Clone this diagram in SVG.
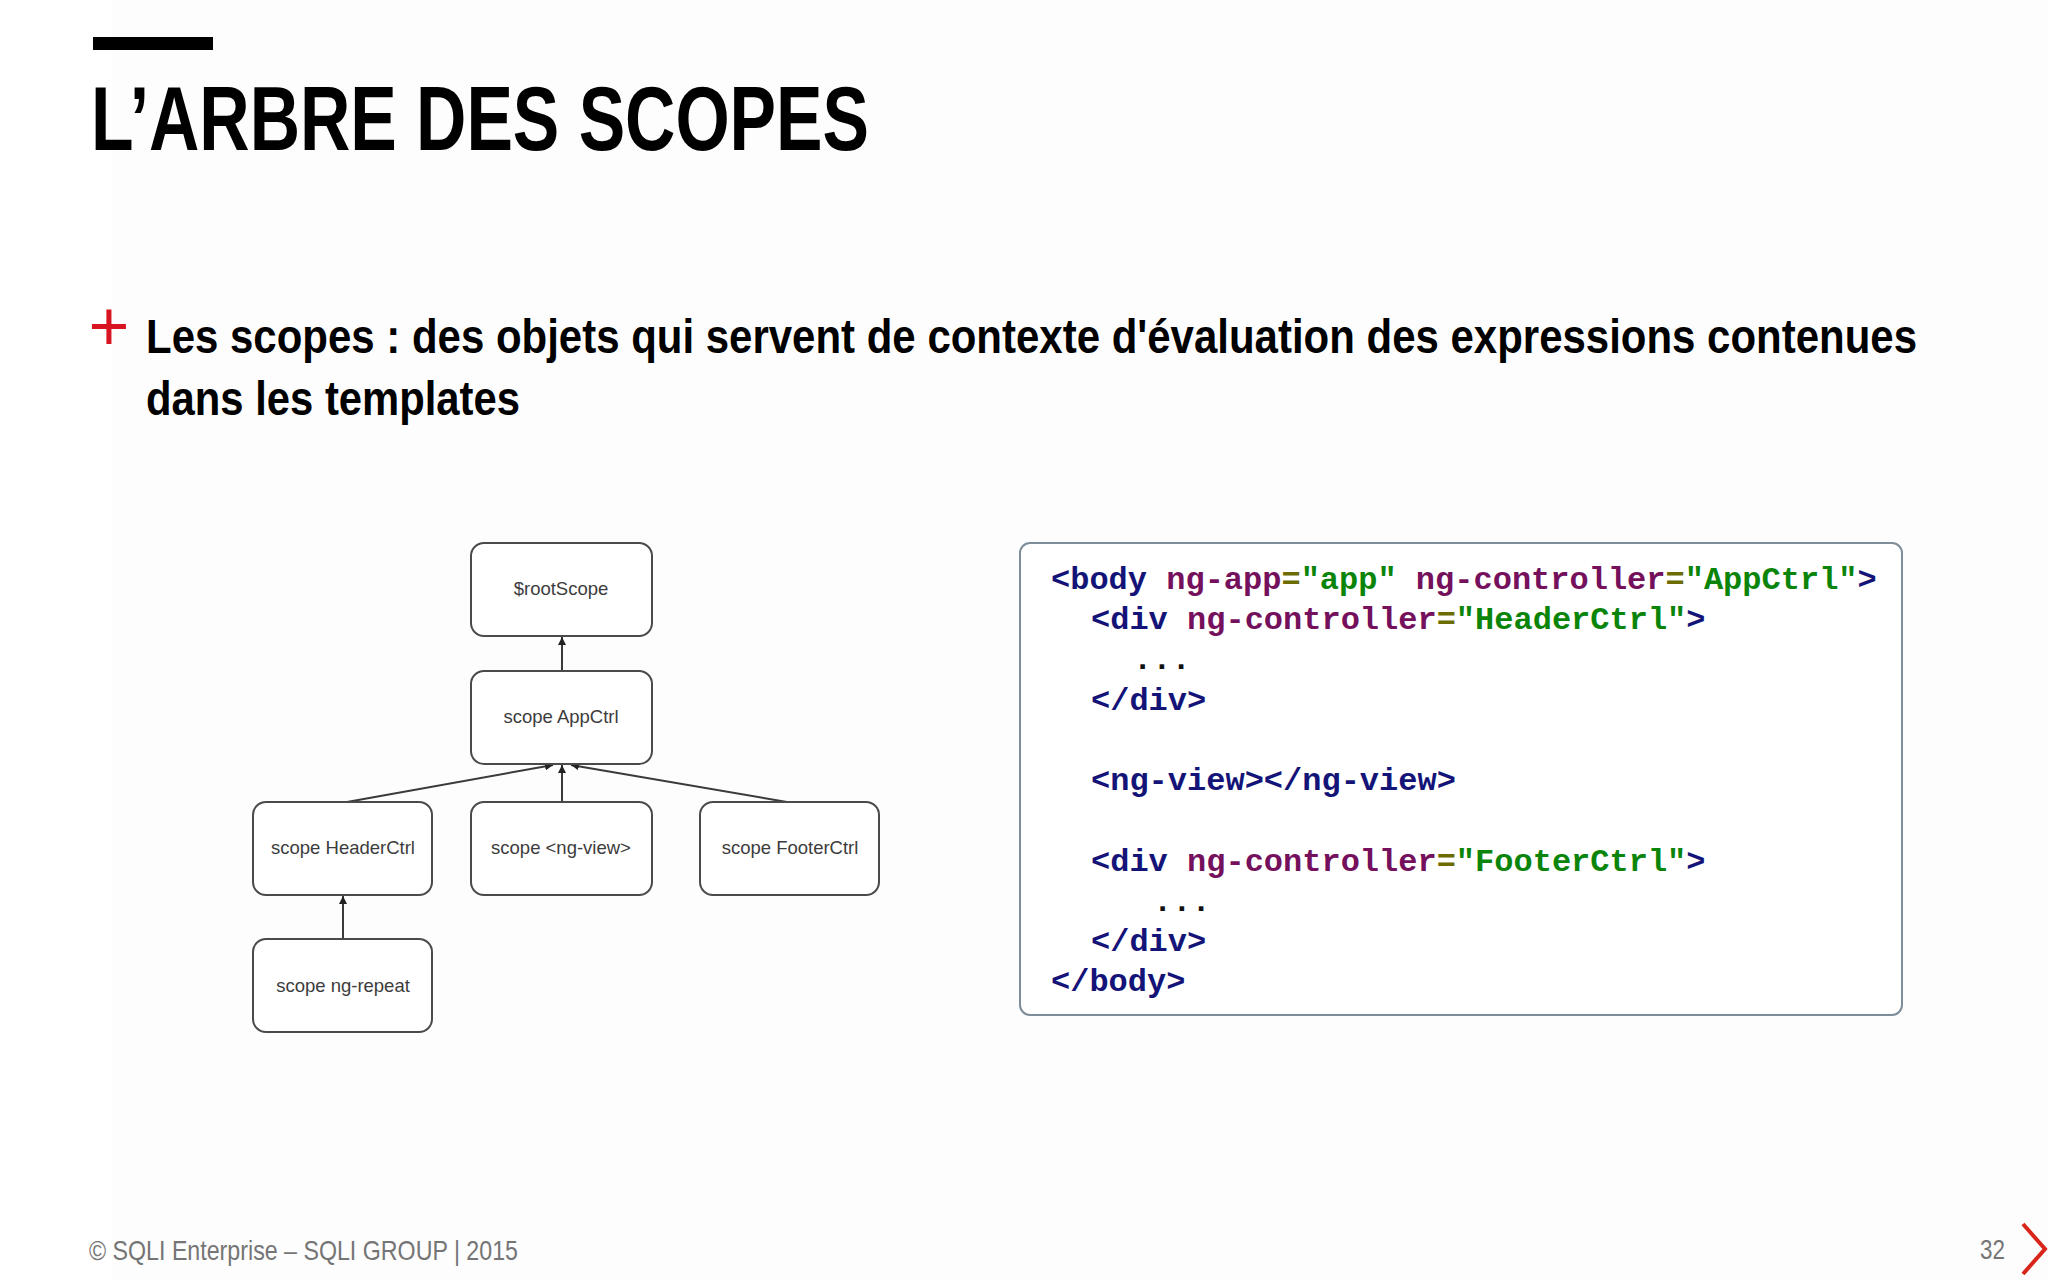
<svg xmlns="http://www.w3.org/2000/svg" width="2048" height="1280" viewBox="0 0 2048 1280">
<style>
.box{fill:#ffffff;stroke:#4a4a4a;stroke-width:2}
.lbl{font-family:"Liberation Sans",Arial,sans-serif;font-size:18.5px;fill:#3c3c3c;text-anchor:middle}
.con{stroke:#3a3a3a;stroke-width:2;fill:none}
.code{font-family:"Liberation Mono","DejaVu Sans Mono",monospace;font-size:32px;font-weight:bold}
.t{fill:#141478}
.a{fill:#74105c}
.e{fill:#6c6c00}
.s{fill:#0a850a}
.d{fill:#111111}
</style>
<defs>
<marker id="arr" viewBox="0 0 10 10" refX="10" refY="5" markerWidth="4" markerHeight="4" orient="auto" markerUnits="strokeWidth">
<path d="M0,0 L10,5 L0,10 z" fill="#222222"/>
</marker>
</defs>
<rect x="0" y="0" width="2048" height="1280" fill="#ffffff"/>
<rect x="112" y="0" width="1936" height="1280" fill="#fefdfe"/>

<g id="header">
<rect x="93" y="37" width="120" height="13" fill="#000000"/>
<text x="91" y="150" font-family="'Liberation Sans',Arial,sans-serif" font-weight="bold" font-size="90" fill="#000000" textLength="778" lengthAdjust="spacingAndGlyphs">L’ARBRE DES SCOPES</text>
</g>

<g id="bullet">
<text x="109" y="350" font-family="'Liberation Sans',Arial,sans-serif" font-size="70" fill="#d7141f" text-anchor="middle">+</text>
<text x="146" y="353" font-family="'Liberation Sans',Arial,sans-serif" font-weight="bold" font-size="49" fill="#000000" textLength="1771" lengthAdjust="spacingAndGlyphs">Les scopes : des objets qui servent de contexte d'évaluation des expressions contenues</text>
<text x="146" y="415" font-family="'Liberation Sans',Arial,sans-serif" font-weight="bold" font-size="49" fill="#000000" textLength="374" lengthAdjust="spacingAndGlyphs">dans les templates</text>
</g>

<g id="connectors">
<line class="con" x1="562" y1="671" x2="562" y2="637" marker-end="url(#arr)"/>
<line class="con" x1="347" y1="802" x2="553" y2="765" marker-end="url(#arr)"/>
<line class="con" x1="562" y1="802" x2="562" y2="765" marker-end="url(#arr)"/>
<line class="con" x1="787" y1="802" x2="571" y2="765" marker-end="url(#arr)"/>
<line class="con" x1="343" y1="939" x2="343" y2="896" marker-end="url(#arr)"/>
</g>

<g id="node-rootScope">
<rect class="box" x="471" y="543" width="181" height="93" rx="13"/>
<text class="lbl" x="561" y="595">$rootScope</text>
</g>
<g id="node-AppCtrl">
<rect class="box" x="471" y="671" width="181" height="93" rx="13"/>
<text class="lbl" x="561" y="723">scope AppCtrl</text>
</g>
<g id="node-HeaderCtrl">
<rect class="box" x="253" y="802" width="179" height="93" rx="13"/>
<text class="lbl" x="343" y="854">scope HeaderCtrl</text>
</g>
<g id="node-ngview">
<rect class="box" x="471" y="802" width="181" height="93" rx="13"/>
<text class="lbl" x="561" y="854">scope &lt;ng-view&gt;</text>
</g>
<g id="node-FooterCtrl">
<rect class="box" x="700" y="802" width="179" height="93" rx="13"/>
<text class="lbl" x="790" y="854">scope FooterCtrl</text>
</g>
<g id="node-ngrepeat">
<rect class="box" x="253" y="939" width="179" height="93" rx="13"/>
<text class="lbl" x="343" y="992">scope ng-repeat</text>
</g>

<g id="code-block">
<rect x="1020" y="543" width="882" height="472" rx="10" fill="#ffffff" stroke="#7d8d99" stroke-width="2"/>
<text class="code" x="1051" y="589"><tspan class="t">&lt;body</tspan> <tspan class="a">ng-app</tspan><tspan class="e">=</tspan><tspan class="s">"app"</tspan> <tspan class="a">ng-controller</tspan><tspan class="e">=</tspan><tspan class="s">"AppCtrl"</tspan><tspan class="t">&gt;</tspan></text>
<text class="code" x="1091" y="629"><tspan class="t">&lt;div</tspan> <tspan class="a">ng-controller</tspan><tspan class="e">=</tspan><tspan class="s">"HeaderCtrl"</tspan><tspan class="t">&gt;</tspan></text>
<text class="code d" x="1133" y="669">...</text>
<text class="code t" x="1091" y="710">&lt;/div&gt;</text>
<text class="code t" x="1091" y="790">&lt;ng-view&gt;&lt;/ng-view&gt;</text>
<text class="code" x="1091" y="871"><tspan class="t">&lt;div</tspan> <tspan class="a">ng-controller</tspan><tspan class="e">=</tspan><tspan class="s">"FooterCtrl"</tspan><tspan class="t">&gt;</tspan></text>
<text class="code d" x="1153" y="911">...</text>
<text class="code t" x="1091" y="951">&lt;/div&gt;</text>
<text class="code t" x="1051" y="991">&lt;/body&gt;</text>
</g>

<g id="footer">
<text x="89" y="1260" font-family="'Liberation Sans',Arial,sans-serif" font-size="28" fill="#757575" textLength="429" lengthAdjust="spacingAndGlyphs">© SQLI Enterprise – SQLI GROUP | 2015</text>
<text x="1980" y="1259" font-family="'Liberation Sans',Arial,sans-serif" font-size="27" fill="#757575" textLength="25" lengthAdjust="spacingAndGlyphs">32</text>
<polyline points="2023,1224 2045,1249 2023,1274" fill="none" stroke="#d9261c" stroke-width="4"/>
</g>
</svg>
